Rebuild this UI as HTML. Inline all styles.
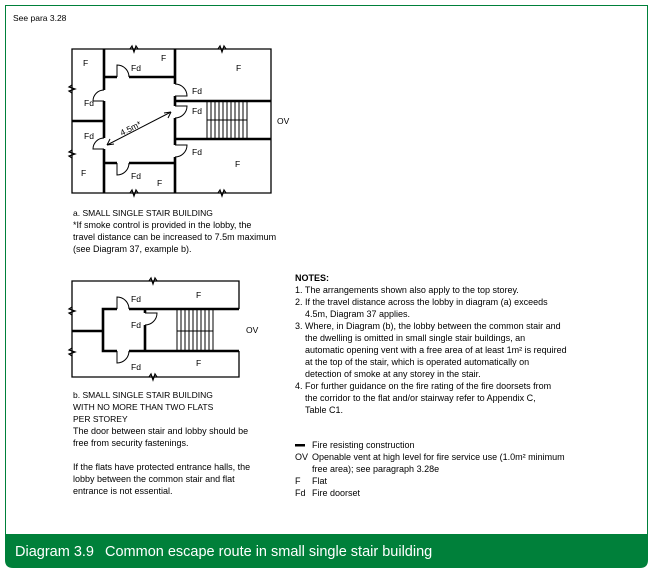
<!DOCTYPE html>
<html><head><meta charset="utf-8"><style>
html,body{margin:0;padding:0;background:#fff;}
svg{display:block;font-family:"Liberation Sans",sans-serif;}
</style></head><body>
<svg width="654" height="574" viewBox="0 0 654 574" xmlns="http://www.w3.org/2000/svg">
<rect x="0" y="0" width="654" height="574" fill="#fff"/>
<path d="M5.5,534 V5.5 H647.5 V534" fill="none" stroke="#00803a" stroke-width="1"/>
<path d="M5,534 H648 V560 Q648,568 640,568 H13 Q5,568 5,560 Z" fill="#00803a"/>
<text x="15" y="556" font-size="14.5" fill="#fff">Diagram 3.9</text>
<text x="105" y="556" font-size="14.5" fill="#fff">Common escape route in small single stair building</text>
<text x="13" y="21" font-size="8.5" fill="#000">See para 3.28</text>

<g stroke="#000" fill="none">
<path d="M72,49 H271 V193 H72 Z" stroke-width="1.3"/>
<g stroke-width="1.2">
<path d="M130,49 l2,-3 l2,6 l2,-6 l2,3"/>
<path d="M218,49 l2,-3 l2,6 l2,-6 l2,3"/>
<path d="M130,193 l2,-3 l2,6 l2,-6 l2,3"/>
<path d="M218,193 l2,-3 l2,6 l2,-6 l2,3"/>
<path d="M72,85 l-3,2 l6,2 l-6,2 l3,2"/>
<path d="M72,150 l-3,2 l6,2 l-6,2 l3,2"/>
</g>
<g stroke-width="2.6">
<path d="M104,49 V90 M104,101 V138 M104,149 V193"/>
<path d="M175,49 V84 M175,96 V106 M175,118 V145 M175,157 V193"/>
<path d="M104,77 H117 M129,77 H175 M104,163 H117 M129,163 H175"/>
<path d="M72,121 H104"/>
<path d="M175,101 H271 M175,139 H271"/>
</g>
<g stroke-width="1">
<path d="M207,101 V139 M211,101 V139 M215,101 V139 M219,101 V139 M223,101 V139 M227,101 V139 M231,101 V139 M235,101 V139 M239,101 V139 M243,101 V139 M247,101 V139 M207,120 H247"/>
</g>
<g stroke-width="1">
<path d="M117,77 V65 A12,12 0 0 1 129,77"/>
<path d="M104,90 A11,11 0 0 0 93,101 H104"/>
<path d="M175,84 A12,12 0 0 1 187,96 H175"/>
<path d="M175,106 H187 A12,12 0 0 1 175,118"/>
<path d="M175,145 H187 A12,12 0 0 1 175,157"/>
<path d="M104,138 A11,11 0 0 0 93,149 H104"/>
<path d="M117,163 V175 A12,12 0 0 0 129,163"/>
</g>
<path d="M107,145 L171,112" stroke-width="1"/>
<path d="M107,145 l7,-1 M107,145 l3,-6 M171,112 l-7,1 M171,112 l-3,6" stroke-width="1"/>

<path d="M239,309 V281 H72 V377 H239 V351" stroke-width="1.3"/>
<g stroke-width="1.2">
<path d="M149,281 l2,-3 l2,6 l2,-6 l2,3"/>
<path d="M149,377 l2,-3 l2,6 l2,-6 l2,3"/>
<path d="M72,307 l-3,2 l6,2 l-6,2 l3,2"/>
<path d="M72,348 l-3,2 l6,2 l-6,2 l3,2"/>
</g>
<g stroke-width="2.6">
<path d="M239,309 H129 M117,309 H103 V351 H117 M129,351 H239"/>
<path d="M72,331 H103"/>
<path d="M145,309 V313 M145,325 V351"/>
</g>
<g stroke-width="1">
<path d="M177,309 V351 M181,309 V351 M185,309 V351 M189,309 V351 M193,309 V351 M197,309 V351 M201,309 V351 M205,309 V351 M209,309 V351 M213,309 V351 M177,331 H213"/>
<path d="M117,309 V297 A12,12 0 0 1 129,309"/>
<path d="M145,313 H157 A12,12 0 0 1 145,325"/>
<path d="M117,351 V363 A12,12 0 0 0 129,351"/>
</g>
</g>

<g font-size="8.5" fill="#000">
<text x="83" y="66">F</text><text x="161" y="61">F</text><text x="131" y="71">Fd</text>
<text x="236" y="71">F</text><text x="192" y="94">Fd</text><text x="192" y="114">Fd</text>
<text x="277" y="124">OV</text><text x="84" y="106">Fd</text><text x="84" y="139">Fd</text>
<text x="81" y="176">F</text><text x="131" y="179">Fd</text><text x="157" y="186">F</text>
<text x="192" y="155">Fd</text><text x="235" y="167">F</text>
<text x="122" y="136" transform="rotate(-27 122 136)">4.5m*</text>

<text x="131" y="302">Fd</text><text x="196" y="298">F</text><text x="131" y="328">Fd</text>
<text x="246" y="333">OV</text><text x="131" y="370">Fd</text><text x="196" y="366">F</text>
</g>
<g font-size="9" fill="#000">
<text x="73" y="216" font-size="8.5">a. SMALL SINGLE STAIR BUILDING</text>
<text x="73" y="228">*If smoke control is provided in the lobby, the</text>
<text x="73" y="240">travel distance can be increased to 7.5m maximum</text>
<text x="73" y="252">(see Diagram 37, example b).</text>

<text x="73" y="398" font-size="8.5">b. SMALL SINGLE STAIR BUILDING</text>
<text x="73" y="410" font-size="8.5">WITH NO MORE THAN TWO FLATS</text>
<text x="73" y="422" font-size="8.5">PER STOREY</text>
<text x="73" y="434">The door between stair and lobby should be</text>
<text x="73" y="446">free from security fastenings.</text>
<text x="73" y="470">If the flats have protected entrance halls, the</text>
<text x="73" y="482">lobby between the common stair and flat</text>
<text x="73" y="494">entrance is not essential.</text>

<text x="295" y="281" font-weight="bold">NOTES:</text>
<text x="295" y="293">1.  The arrangements shown also apply to the top storey.</text>
<text x="295" y="305">2.  If the travel distance across the lobby in diagram (a) exceeds</text>
<text x="305" y="317">4.5m, Diagram 37 applies.</text>
<text x="295" y="329">3.  Where, in Diagram (b), the lobby between the common stair and</text>
<text x="305" y="341">the dwelling is omitted in small single stair buildings, an</text>
<text x="305" y="353">automatic opening vent with a free area of at least 1m² is required</text>
<text x="305" y="365">at the top of the stair, which is operated automatically on</text>
<text x="305" y="377">detection of smoke at any storey in the stair.</text>
<text x="295" y="389">4.  For further guidance on the fire rating of the fire doorsets from</text>
<text x="305" y="401">the corridor to the flat and/or stairway refer to Appendix C,</text>
<text x="305" y="413">Table C1.</text>

<rect x="295" y="444" width="10" height="2.5" fill="#000"/>
<text x="312" y="448">Fire resisting construction</text>
<text x="295" y="460">OV</text><text x="312" y="460">Openable vent at high level for fire service use (1.0m² minimum</text>
<text x="312" y="472">free area); see paragraph 3.28e</text>
<text x="295" y="484">F</text><text x="312" y="484">Flat</text>
<text x="295" y="496">Fd</text><text x="312" y="496">Fire doorset</text>
</g>
</svg>
</body></html>
